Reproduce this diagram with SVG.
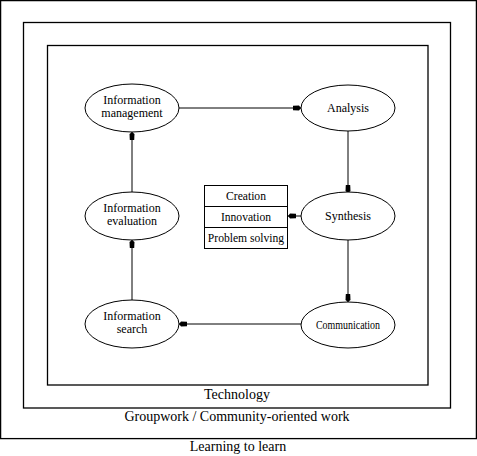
<svg xmlns="http://www.w3.org/2000/svg" width="477" height="456" viewBox="0 0 477 456">
<style>
.frame{fill:none;stroke:#000;stroke-width:1.3}
.node ellipse,.node rect{fill:#fff;stroke:#000;stroke-width:1}
.node line{stroke:#000;stroke-width:1}
text{font-family:"Liberation Serif","Times New Roman",serif;fill:#000;text-anchor:middle}
.n{font-size:12px}
.b{font-size:11.6px}
.f{font-size:14px}
#edges line{stroke:#000;stroke-width:1;marker-end:url(#ah)}
</style>
<defs>
<marker id="ah" viewBox="0 0 8 6" refX="8" refY="3" markerWidth="8" markerHeight="6" markerUnits="userSpaceOnUse" orient="auto">
<path d="M0,0.8 L6,0.5 L8,3 L6,5.5 L0,5.2 Z" fill="#000"/>
</marker>
</defs>
<rect width="477" height="456" fill="#fff"/>
<g id="learning">
<rect class="frame" x="0.6" y="0.6" width="475.8" height="438"/>
<text class="f" x="238" y="451">Learning to learn</text>
</g>
<g id="groupwork">
<rect class="frame" x="23.5" y="22.5" width="427" height="385.5"/>
<text class="f" x="237" y="421">Groupwork / Community-oriented work</text>
</g>
<g id="technology">
<rect class="frame" x="47.5" y="45.5" width="380.5" height="339.5"/>
<text class="f" x="237" y="399">Technology</text>
</g>
<g id="edges">
<line x1="179" y1="108" x2="301" y2="108"/>
<line x1="348" y1="131" x2="348" y2="193"/>
<line x1="302" y1="216" x2="288" y2="216"/>
<line x1="348" y1="240" x2="348" y2="302"/>
<line x1="301" y1="324" x2="179" y2="324"/>
<line x1="132" y1="302" x2="132" y2="240"/>
<line x1="132" y1="193" x2="132" y2="132"/>
</g>
<g id="info-management" class="node">
<ellipse cx="132" cy="108" rx="47" ry="24"/>
<text class="n" x="132" y="104">Information</text>
<text class="n" x="132" y="117">management</text>
</g>
<g id="analysis" class="node">
<ellipse cx="348" cy="108" rx="47" ry="23"/>
<text class="n" x="348" y="112">Analysis</text>
</g>
<g id="synthesis" class="node">
<ellipse cx="348" cy="216" rx="47" ry="24"/>
<text class="n" x="348" y="220">Synthesis</text>
</g>
<g id="communication" class="node">
<ellipse cx="348" cy="325" rx="47" ry="23"/>
<text class="n" x="348" y="329" textLength="64" lengthAdjust="spacingAndGlyphs">Communication</text>
</g>
<g id="info-search" class="node">
<ellipse cx="132" cy="324" rx="47" ry="24"/>
<text class="n" x="132" y="320">Information</text>
<text class="n" x="132" y="333">search</text>
</g>
<g id="info-evaluation" class="node">
<ellipse cx="132" cy="216" rx="47" ry="24"/>
<text class="n" x="132" y="212">Information</text>
<text class="n" x="132" y="225">evaluation</text>
</g>
<g id="outcomes" class="node">
<rect x="204.5" y="185.5" width="83" height="63"/>
<line x1="204.5" y1="206.5" x2="287.5" y2="206.5"/>
<line x1="204.5" y1="227.5" x2="287.5" y2="227.5"/>
<text class="b" x="246" y="200">Creation</text>
<text class="b" x="246" y="221">Innovation</text>
<text class="b" x="246" y="242">Problem solving</text>
</g>
</svg>
